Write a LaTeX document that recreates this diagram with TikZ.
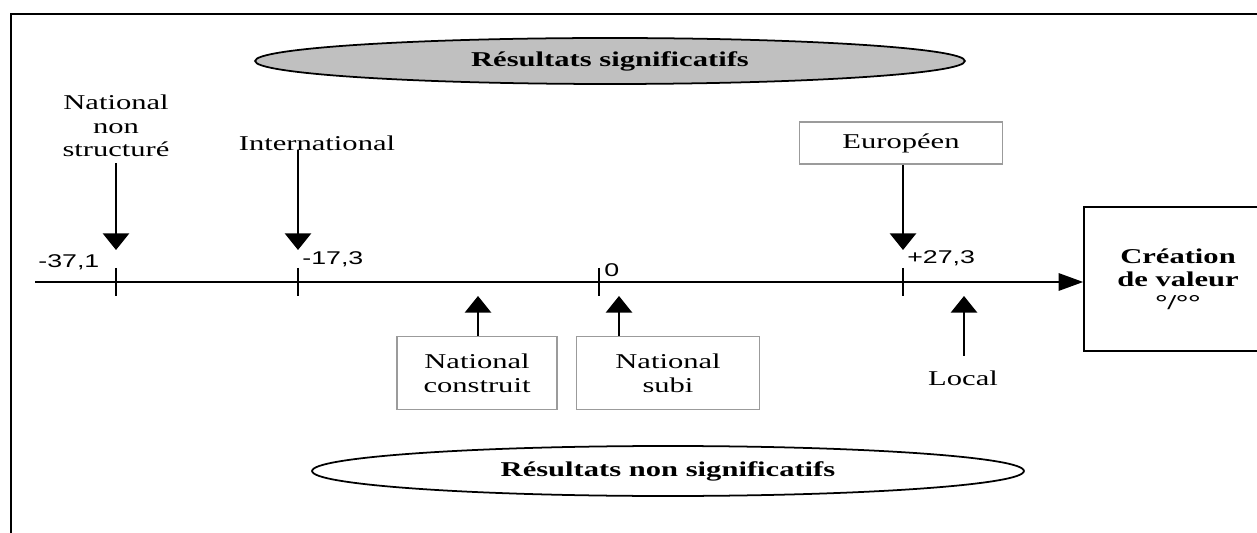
\documentclass[tikz,border=0pt]{standalone}
\usepackage{fontspec}
\setmainfont{Liberation Serif}[FakeStretch=1.45]
\setsansfont{Liberation Sans}[FakeStretch=1.45]
\usetikzlibrary{arrows.meta,positioning,shapes.geometric}
\definecolor{ellgray}{RGB}{192,192,192}
\definecolor{boxgray}{RGB}{155,155,155}

\begin{document}
\begin{tikzpicture}[x=0.02cm,y=-0.02cm,every node/.style={font=\fontsize{12}{13.5}\selectfont,align=center},axe/.style={-{Triangle[length=14pt,width=10pt]},line width=0.85pt},dn/.style={-{Triangle[length=9.5pt,width=15pt]},line width=1.1pt},tick/.style={line width=0.9pt},val/.style={font=\sffamily\fontsize{10.5}{12}\selectfont,inner sep=0pt,anchor=base west},gbox/.style={draw=boxgray,line width=0.7pt,minimum height=1.46cm,inner sep=2pt},res/.style={draw,ellipse,line width=1pt,inner sep=0pt,font=\bfseries\fontsize{12}{14}\selectfont}]
\useasboundingbox (0,0) rectangle (1257,533);
\draw[line width=1pt] (11,560)--(11,14)--(1290,14);
\node[res,fill=ellgray,minimum width=14.2cm,minimum height=0.92cm] (sig) at (610,61) {Résultats significatifs};
\node[res,minimum width=14.24cm,minimum height=1cm] (nsig) at (668,471) {Résultats non significatifs};
\node[draw,line width=1pt,minimum width=3.76cm,minimum height=2.88cm,font=\bfseries\fontsize{12}{13}\selectfont] (cv) at (1178,279) {Création\\de valeur\\°/°°};
\coordinate (ax0) at (35,282);\draw[axe] (ax0)--(ax0 -| cv.west);
\foreach \x in {116,298,599,903} {\draw[tick] (\x,268)--(\x,296);}
\node[val] (v1) at (38,268) {-37,1};\node[val] (v2) at (302,265) {-17,3};\node[val] (v3) at (604,277) {0};\node[val] (v4) at (907,264) {+27,3};
\node (nns) at (116,126) {National\\non\\structuré};\node (intl) at (317,143) {International};
\node[gbox,minimum width=4.06cm,minimum height=0.84cm] (eur) at (901,143) {Européen};
\node[gbox,minimum width=3.2cm] (nc) at (477,373) {National\\construit};\node[gbox,minimum width=3.66cm] (nsu) at (668,373) {National\\subi};
\node (loc) at (963,378) {Local};
\coordinate (aN) at (116,250);\coordinate (aI) at (298,250);\coordinate (aE) at (903,250);
\coordinate (aC) at (478,296);\coordinate (aS) at (619,296);\coordinate (aL) at (964,296);
\draw[dn] (nns.south)--(aN);\draw[dn] (intl.base -| aI)--(aI);\draw[dn] (eur.south -| aE)--(aE);
\draw[dn] (nc.north -| aC)--(aC);\draw[dn] (nsu.north -| aS)--(aS);\draw[dn] ([yshift=5pt]loc.north -| aL)--(aL);
\end{tikzpicture}
\end{document}
